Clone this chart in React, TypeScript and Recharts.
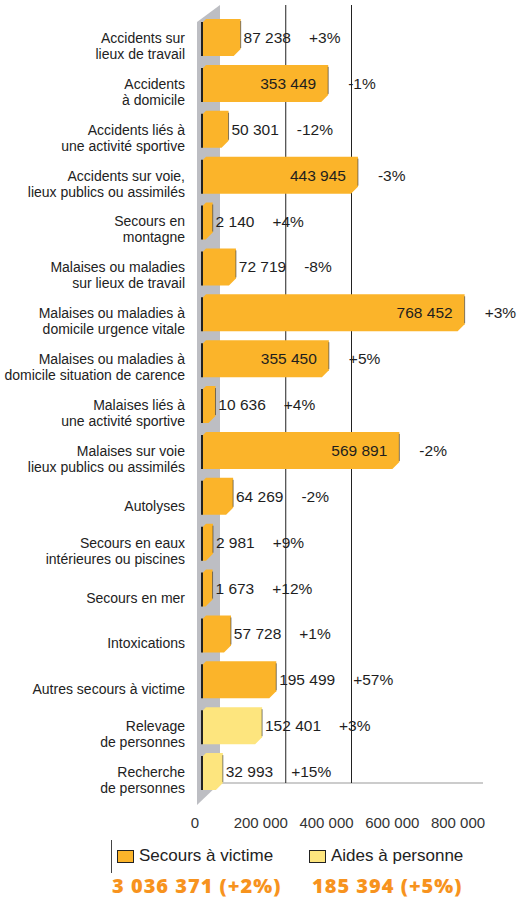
import { Bar, BarChart, CartesianGrid, LabelList, XAxis, YAxis } from "recharts";

const CATEGORIES = [
  "Accidents sur\nlieux de travail",
  "Accidents\nà domicile",
  "Accidents liés à\nune activité sportive",
  "Accidents sur voie,\nlieux publics ou assimilés",
  "Secours en\nmontagne",
  "Malaises ou maladies\nsur lieux de travail",
  "Malaises ou maladies à\ndomicile urgence vitale",
  "Malaises ou maladies à\ndomicile situation de carence",
  "Malaises liés à\nune activité sportive",
  "Malaises sur voie\nlieux publics ou assimilés",
  "Autolyses",
  "Secours en eaux\nintérieures ou piscines",
  "Secours en mer",
  "Intoxications",
  "Autres secours à victime",
  "Relevage\nde personnes",
  "Recherche\nde personnes",
];

const VICTIME = [
  87238, 353449, 50301, 443945, 2140, 72719, 768452, 355450, 10636, 569891,
  64269, 2981, 1673, 57728, 195499, null, null,
];
const PERSONNE = [
  null, null, null, null, null, null, null, null, null, null, null, null, null,
  null, null, 152401, 32993,
];
const CHANGES = [
  "+3%", "-1%", "-12%", "-3%", "+4%", "-8%", "+3%", "+5%", "+4%", "-2%",
  "-2%", "+9%", "+12%", "+1%", "+57%", "+3%", "+15%",
];

const X_TICKS = [0, 200000, 400000, 600000, 800000];
const SERIES = ["Secours à victime", "Aides à personne"];
const TOTALS = ["3 036 371 (+2%)", "185 394 (+5%)"];

const X_MAX = 800000;
const ORANGE = "#fbb42a";
const YELLOW = "#fde57e";
const WALL = "#bdbec3";
const DEPTH = 10;
const FONT = "'Liberation Sans', Arial, sans-serif";

const data = CATEGORIES.map((name, i) => ({
  name,
  victime: VICTIME[i],
  personne: PERSONNE[i],
  change: CHANGES[i],
}));

const fmt = (v: number) => String(v).replace(/\B(?=(\d{3})+(?!\d))/g, " ");

// rough width of a number label at 15.5px
const textWidth = (s: string) =>
  s.split("").reduce((w, c) => w + (c === " " ? 4.3 : 8.6), 0);

function CategoryTick({ x, y, payload }: any) {
  const lines = String(payload.value).split("\n");
  const first = lines.length === 1 ? y + 14 : y + 5;
  return (
    <text x={x} y={first} textAnchor="end" fontSize={14} fill="#222" fontFamily={FONT}>
      {lines.map((l, i) => (
        <tspan key={i} x={x} dy={i === 0 ? 0 : 16}>
          {l}
        </tspan>
      ))}
    </text>
  );
}

function ValueTick({ x, y, payload }: any) {
  return (
    <text x={x - 7} y={y + 33} textAnchor="middle" fontSize={15} fill="#333" fontFamily={FONT}>
      {fmt(payload.value)}
    </text>
  );
}

const makeShape = (color: string) => (props: any) => {
  const { x, y, width, height, value } = props;
  const v = Array.isArray(value) ? value[1] - value[0] : value;
  if (!v || !height) return <g />;
  const r = x + Math.max(width, 0) + DEPTH;
  const d = `M${x},${y + 4} L${x + 4},${y} L${r},${y} L${r},${y + height - 7} L${r - 7},${y + height} L${x},${y + height} Z`;
  return (
    <g>
      <path d={d} fill={color} />
      <line x1={r} y1={y + 2} x2={r} y2={y + height - 8} stroke="#333" strokeWidth={1} opacity={0.6} />
      <line x1={x} y1={y + 3} x2={x} y2={y + height} stroke="#222" strokeWidth={2} />
    </g>
  );
};

function BarLabel(props: any) {
  const { x, y, width, height, value, index } = props;
  if (value == null) return null;
  const end = x + width + DEPTH;
  const label = fmt(value);
  const cy = y + height / 2 + 5.5;
  const inside = value > 300000;
  const valueEnd = inside ? end - 12 : end + 3 + textWidth(label);
  const pctX = inside ? end + 20 : valueEnd + 18;
  return (
    <g fontFamily={FONT} fontSize={15.5} fill="#1e1e1e">
      <text x={valueEnd} y={cy} textAnchor="end">
        {label}
      </text>
      <text x={pctX} y={cy}>{CHANGES[index]}</text>
    </g>
  );
}

function GridLine(props: any) {
  const { x1, y1, y2, index } = props;
  if (index === 0) {
    // left wall of the 3D frame
    const pts = [
      [x1 - 5, y1 + 7],
      [x1 + 18, y1 - 10],
      [x1 + 18, y2 - 12],
      [x1 - 5, y2 + 10],
    ];
    return <polygon points={pts.map((p) => p.join(",")).join(" ")} fill={WALL} />;
  }
  return <line x1={x1} y1={y1 - 10} x2={x1} y2={y2 - 12} stroke="#222" strokeWidth={1} />;
}

function FloorLine(props: any) {
  const { x1, x2, y1 } = props;
  return <line x1={x1 + 20} y1={y1} x2={x2 + 18} y2={y1} stroke="#999" strokeWidth={1} />;
}

export default function App() {
  return (
    <div
      style={{
        position: "absolute",
        left: 0,
        top: 0,
        width: 518,
        height: 899,
        background: "#fff",
        fontFamily: FONT,
        overflow: "hidden",
      }}
    >
      <BarChart
        layout="vertical"
        width={518}
        height={835}
        data={data}
        margin={{ top: 15, right: 53, bottom: 0, left: 0 }}
        barSize={37}
      >
        <CartesianGrid
          verticalCoordinatesGenerator={({ offset }: any) => [
            offset.left,
            offset.left + (offset.width * X_TICKS[1]) / X_MAX + 18,
            offset.left + (offset.width * X_TICKS[2]) / X_MAX + 18,
          ]}
          horizontalCoordinatesGenerator={({ offset }: any) => [
            offset.top + offset.height - 12,
          ]}
          vertical={GridLine}
          horizontal={FloorLine}
        />
        <XAxis
          type="number"
          domain={[0, X_MAX]}
          ticks={X_TICKS}
          axisLine={false}
          tickLine={false}
          tickSize={0}
          tickMargin={0}
          height={40}
          tick={ValueTick}
        />
        <YAxis
          type="category"
          dataKey="name"
          width={202}
          axisLine={false}
          tickLine={false}
          tickSize={0}
          tickMargin={17}
          interval={0}
          tick={CategoryTick}
        />
        <Bar
          dataKey="victime"
          name={SERIES[0]}
          stackId="s"
          fill={ORANGE}
          shape={makeShape(ORANGE)}
          isAnimationActive={false}
        >
          <LabelList dataKey="victime" content={BarLabel} />
        </Bar>
        <Bar
          dataKey="personne"
          name={SERIES[1]}
          stackId="s"
          fill={YELLOW}
          shape={makeShape(YELLOW)}
          isAnimationActive={false}
        >
          <LabelList dataKey="personne" content={BarLabel} />
        </Bar>
      </BarChart>

      <div
        style={{
          position: "absolute",
          left: 111,
          top: 840,
          height: 33,
          borderLeft: "1.5px solid #444",
        }}
      />
      {SERIES.map((s, i) => (
        <div
          key={s}
          style={{
            position: "absolute",
            left: i === 0 ? 117 : 309,
            top: 846,
            display: "flex",
            alignItems: "center",
            fontSize: 17,
            color: "#222",
          }}
        >
          <span
            style={{
              width: 15,
              height: 11,
              background: i === 0 ? ORANGE : YELLOW,
              border: "1.5px solid #222",
              marginRight: 5,
            }}
          />
          {s}
        </div>
      ))}
      {TOTALS.map((t, i) => (
        <div
          key={t}
          style={{
            position: "absolute",
            left: i === 0 ? 112 : 312,
            top: 875,
            lineHeight: "22px",
            fontFamily: "'Open Sans', sans-serif",
            fontWeight: 800,
            fontSize: 20,
            letterSpacing: 1,
            color: "#f7931e",
            whiteSpace: "nowrap",
          }}
        >
          {t}
        </div>
      ))}
    </div>
  );
}
